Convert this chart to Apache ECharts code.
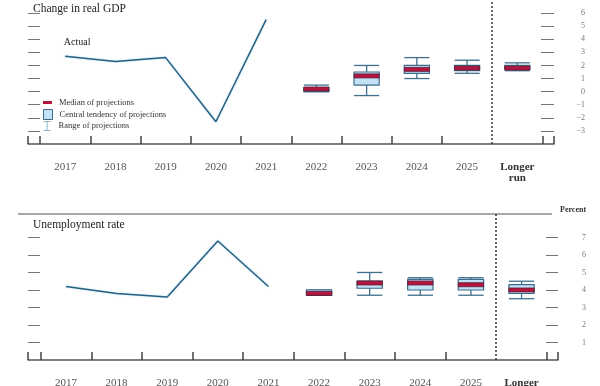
<!DOCTYPE html>
<html>
<head>
<meta charset="utf-8">
<script src="https://cdn.jsdelivr.net/npm/echarts@6/dist/echarts.min.js"></script>
<style>
html,body{margin:0;padding:0;background:#fff;}
#chart{width:600px;height:386px;}
</style>
</head>
<body>
<div id="chart"></div>
<script>
// ---- Data ----
const categories = ['2017','2018','2019','2020','2021','2022','2023','2024','2025','Longer run'];
const actualX = [0, 1, 2, 3, 4];
const gdpActual = [2.7, 2.3, 2.6, -2.3, 5.5];
const unempActual = [4.2, 3.8, 3.6, 6.8, 4.2];

const projX = [5, 6, 7, 8, 9];
const gdpMedian      = [0.2, 1.2, 1.7, 1.8, 1.8];
const gdpCentralLow  = [0.0, 0.5, 1.4, 1.6, 1.7];
const gdpCentralHigh = [0.3, 1.5, 2.0, 2.0, 2.0];
const gdpRangeLow    = [0.0, -0.3, 1.0, 1.4, 1.6];
const gdpRangeHigh   = [0.5, 2.0, 2.6, 2.4, 2.2];

const unempMedian      = [3.8, 4.4, 4.4, 4.3, 4.0];
const unempCentralLow  = [3.7, 4.1, 4.0, 4.0, 3.8];
const unempCentralHigh = [4.0, 4.5, 4.6, 4.6, 4.3];
const unempRangeLow    = [3.7, 3.7, 3.7, 3.7, 3.5];
const unempRangeHigh   = [4.0, 5.0, 4.7, 4.7, 4.5];

const gdpTicks = [-3, -2, -1, 0, 1, 2, 3, 4, 5, 6];
const unempTicks = [1, 2, 3, 4, 5, 6, 7];
const catTicks = [-0.5, 0.5, 1.5, 2.5, 3.5, 4.5, 5.5, 6.5, 7.5, 9.5];
const labelPos = [0, 1, 2, 3, 4, 5, 6, 7, 8, 9];

// ---- Styles ----
const FONT = 'Liberation Serif';
const LINE_COLOR = '#2a5f80';
const WHISKER = '#3f6f8d';
const BOX_FILL = '#c4e2f6';
const BOX_BORDER = '#3c6c8c';
const MED_FILL = '#b3173f';
const MED_BORDER = '#5e1b36';

function pairs(xs, a, b) { return xs.map((x, i) => [x, a[i], b[i]]); }
function singles(xs, a) { return xs.map((x, i) => [x, a[i]]); }

function renderRange(params, api) {
  const x = api.value(0), lo = api.value(1), hi = api.value(2);
  const pLo = api.coord([x, lo]), pHi = api.coord([x, hi]);
  const w = api.size([1, 0])[0] * 0.5;
  const st = { stroke: WHISKER, lineWidth: 1.3 };
  return { type: 'group', children: [
    { type: 'line', shape: { x1: pLo[0], y1: pLo[1], x2: pHi[0], y2: pHi[1] }, style: st },
    { type: 'line', shape: { x1: pLo[0] - w / 2, y1: pLo[1], x2: pLo[0] + w / 2, y2: pLo[1] }, style: st },
    { type: 'line', shape: { x1: pHi[0] - w / 2, y1: pHi[1], x2: pHi[0] + w / 2, y2: pHi[1] }, style: st }
  ]};
}
function renderBox(params, api) {
  const x = api.value(0), lo = api.value(1), hi = api.value(2);
  const pLo = api.coord([x, lo]), pHi = api.coord([x, hi]);
  const w = api.size([1, 0])[0] * 0.5;
  return { type: 'rect', shape: { x: pLo[0] - w / 2, y: pHi[1], width: w, height: pLo[1] - pHi[1] },
    style: { fill: BOX_FILL, stroke: BOX_BORDER, lineWidth: 1.2 } };
}
function renderMedian(params, api) {
  const x = api.value(0), m = api.value(1);
  const p = api.coord([x, m]);
  const w = api.size([1, 0])[0] * 0.5;
  return { type: 'rect', shape: { x: p[0] - w / 2, y: p[1] - 2, width: w, height: 4 },
    style: { fill: MED_FILL, stroke: MED_BORDER, lineWidth: 0.8 } };
}

function xAxisFor(gridIndex, min, max) {
  return {
    type: 'value', gridIndex: gridIndex, min: min, max: max,
    splitLine: { show: false },
    axisLine: { show: true, onZero: false, lineStyle: { color: '#555', width: 1.5 } },
    axisTick: { show: true, inside: true, length: 8, lineStyle: { color: '#444', width: 1.5 },
      customValues: [min].concat(catTicks).concat([max]) },
    axisLabel: {
      show: true, margin: 18, customValues: labelPos,
      fontFamily: FONT, fontSize: 11, color: '#555',
      formatter: function (v) {
        const c = categories[Math.round(v)];
        if (c === 'Longer run') return '{b|Longer}\n{b|run}';
        return c;
      },
      rich: { b: { fontFamily: FONT, fontSize: 11, fontWeight: 'bold', color: '#333', lineHeight: 11 } }
    }
  };
}
function yAxisFor(gridIndex, pos, min, max, ticks, tickLen, showLabel, margin) {
  return {
    type: 'value', gridIndex: gridIndex, position: pos, min: min, max: max,
    splitLine: { show: false },
    axisLine: { show: false, onZero: false },
    axisTick: { show: true, inside: true, length: tickLen, customValues: ticks,
      lineStyle: { color: '#777', width: 1 } },
    axisLabel: { show: showLabel, customValues: ticks, inside: false, margin: margin, align: 'right',
      fontFamily: FONT, fontSize: 8, color: '#777',
      formatter: function (v) { return String(v).replace('-', '\u2212'); } }
  };
}

const dashed = {
  symbol: 'none', silent: true, label: { show: false },
  lineStyle: { type: [2, 2], color: '#333', width: 1.5 },
  data: [{ xAxis: 8.5 }]
};

const legendText = { fontFamily: FONT, fontSize: 8.5, color: '#333', padding: [0, 0, 0, 2] };

const option = {
  animation: false,
  backgroundColor: '#fff',
  grid: [
    { left: 28, right: 46, top: 0, bottom: 242, outerBoundsMode: 'none', containLabel: false },
    { left: 28, right: 42, top: 214, bottom: 26, outerBoundsMode: 'none', containLabel: false }
  ],
  xAxis: [ xAxisFor(0, -0.74, 9.73), xAxisFor(1, -0.75, 9.72) ],
  yAxis: [
    yAxisFor(0, 'left', -4, 7, gdpTicks, 12, false, 0),
    yAxisFor(0, 'right', -4, 7, gdpTicks, 13, true, 31),
    yAxisFor(1, 'left', 0, 8.34, unempTicks, 12, false, 0),
    yAxisFor(1, 'right', 0, 8.34, unempTicks, 12, true, 28)
  ],
  title: [
    { text: 'Change in real GDP', left: 28, top: -2, textStyle: { fontFamily: FONT, fontSize: 11.5, fontWeight: 'normal', color: '#222' } },
    { text: 'Unemployment rate', left: 28, top: 214, textStyle: { fontFamily: FONT, fontSize: 11.5, fontWeight: 'normal', color: '#222' } },
    { text: 'Percent', left: 555, top: 201, textStyle: { fontFamily: FONT, fontSize: 8, fontWeight: 'bold', color: '#333' } }
  ],
  legend: [
    { left: 43, top: 98, padding: 0, orient: 'vertical', itemWidth: 9, itemHeight: 3, icon: 'rect',
      textStyle: legendText,
      data: [{ name: 'Median of projections', itemStyle: { color: MED_FILL, borderWidth: 0 } }] },
    { left: 43, top: 109, padding: 0, orient: 'vertical', itemWidth: 9, itemHeight: 10, icon: 'rect',
      textStyle: legendText,
      data: [{ name: 'Central tendency of projections', itemStyle: { color: BOX_FILL, borderColor: BOX_BORDER, borderWidth: 1 } }] },
    { left: 43, top: 121, padding: 0, orient: 'vertical', itemWidth: 9, itemHeight: 9,
      textStyle: legendText,
      data: [{ name: 'Range of projections', icon: 'path://M1,0H9M5,0V10M1,10H9',
        itemStyle: { color: 'rgba(0,0,0,0)', borderColor: '#8fb3c9', borderWidth: 1 } }] }
  ],
  graphic: [
    { type: 'line', shape: { x1: 18, y1: 214, x2: 552, y2: 214 }, style: { stroke: '#8a8a8a', lineWidth: 1.5 }, silent: true }
  ],
  series: [
    { name: 'Actual GDP', type: 'line', xAxisIndex: 0, yAxisIndex: 0,
      data: actualX.map((x, i) => i === 0 ? { value: [x, gdpActual[i]],
        label: { show: true, formatter: 'Actual', position: 'top', distance: 9, offset: [12, 0],
          fontFamily: FONT, fontSize: 10, color: '#222' } } : [x, gdpActual[i]]),
      showSymbol: true, symbol: 'circle', symbolSize: 0.01,
      lineStyle: { color: LINE_COLOR, width: 1.5, shadowColor: 'rgba(120,200,240,0.6)', shadowBlur: 2 },
      markLine: dashed, z: 3 },
    { name: 'Actual unemployment', type: 'line', xAxisIndex: 1, yAxisIndex: 2,
      data: singles(actualX, unempActual), showSymbol: false, symbol: 'none',
      lineStyle: { color: LINE_COLOR, width: 1.5, shadowColor: 'rgba(120,200,240,0.6)', shadowBlur: 2 },
      markLine: dashed, z: 3 },

    { name: 'Range of projections', type: 'custom', xAxisIndex: 0, yAxisIndex: 0,
      itemStyle: { color: '#8fb3c9' }, renderItem: renderRange,
      encode: { x: 0, y: [1, 2] }, data: pairs(projX, gdpRangeLow, gdpRangeHigh), z: 2 },
    { name: 'Central tendency of projections', type: 'custom', xAxisIndex: 0, yAxisIndex: 0,
      itemStyle: { color: BOX_FILL }, renderItem: renderBox,
      encode: { x: 0, y: [1, 2] }, data: pairs(projX, gdpCentralLow, gdpCentralHigh), z: 3 },
    { name: 'Median of projections', type: 'custom', xAxisIndex: 0, yAxisIndex: 0,
      itemStyle: { color: MED_FILL }, renderItem: renderMedian,
      encode: { x: 0, y: 1 }, data: singles(projX, gdpMedian), z: 4 },

    { name: 'Range of projections', type: 'custom', xAxisIndex: 1, yAxisIndex: 2,
      itemStyle: { color: '#8fb3c9' }, renderItem: renderRange,
      encode: { x: 0, y: [1, 2] }, data: pairs(projX, unempRangeLow, unempRangeHigh), z: 2 },
    { name: 'Central tendency of projections', type: 'custom', xAxisIndex: 1, yAxisIndex: 2,
      itemStyle: { color: BOX_FILL }, renderItem: renderBox,
      encode: { x: 0, y: [1, 2] }, data: pairs(projX, unempCentralLow, unempCentralHigh), z: 3 },
    { name: 'Median of projections', type: 'custom', xAxisIndex: 1, yAxisIndex: 2,
      itemStyle: { color: MED_FILL }, renderItem: renderMedian,
      encode: { x: 0, y: 1 }, data: singles(projX, unempMedian), z: 4 }
  ]
};

const chart = echarts.init(document.getElementById('chart'), null, { renderer: 'canvas' });
chart.setOption(option);
</script>
</body>
</html>
